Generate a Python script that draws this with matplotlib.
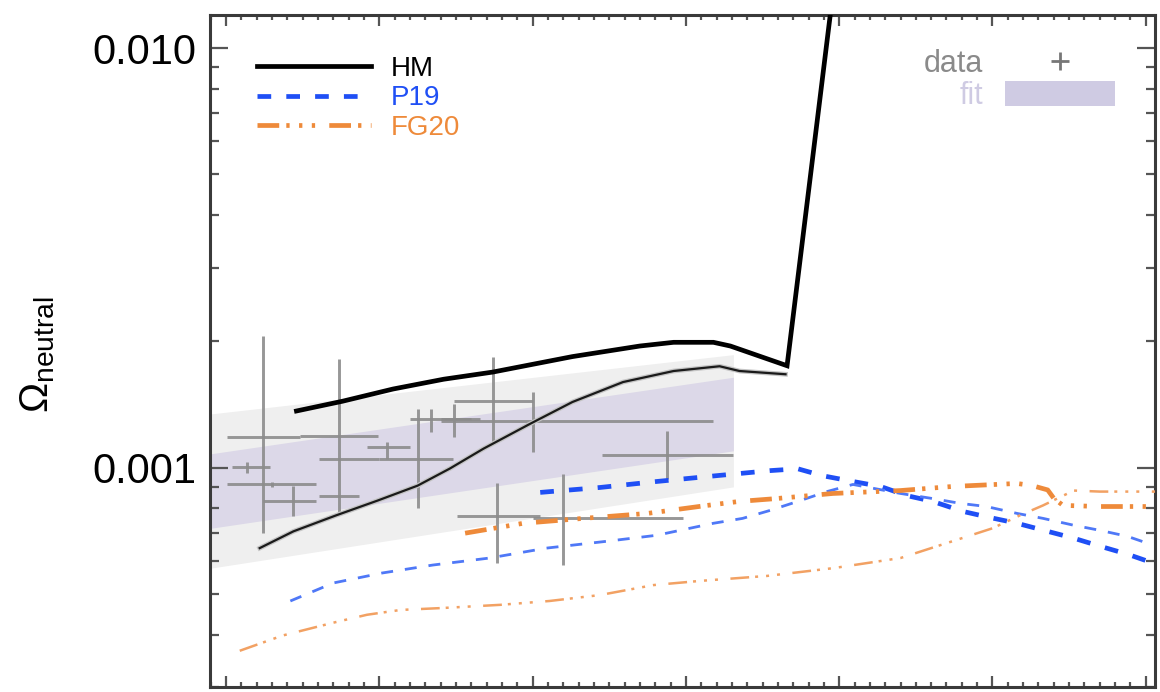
import matplotlib
matplotlib.use("Agg")
import matplotlib.pyplot as plt
import matplotlib.patheffects as pe
from matplotlib.lines import Line2D
from matplotlib.patches import Patch
from matplotlib.ticker import MultipleLocator, LogLocator, FuncFormatter, NullFormatter

plt.rcParams['font.family'] = ['Liberation Sans', 'DejaVu Sans']
plt.rcParams['mathtext.fontset'] = 'custom'
plt.rcParams['mathtext.rm'] = 'Liberation Sans'
plt.rcParams['mathtext.it'] = 'Liberation Sans:italic'

# ---------------- data ----------------
hm_x = [0.46, 0.76, 1.09, 1.42, 1.74, 2.26, 2.70, 2.92, 3.18, 3.29, 3.66, 3.96]
hm_y = [1.365e-3, 1.44e-3, 1.54e-3, 1.625e-3, 1.69e-3, 1.84e-3, 1.95e-3,
        1.99e-3, 1.99e-3, 1.95e-3, 1.75e-3, 1.36e-2]

hm2_x = [0.22, 0.44, 0.72, 0.99, 1.25, 1.46, 1.68, 1.98, 2.26, 2.59, 2.92, 3.22, 3.35, 3.65]
hm2_y = [0.643e-3, 0.705e-3, 0.770e-3, 0.835e-3, 0.906e-3, 0.995e-3, 1.11e-3,
         1.27e-3, 1.434e-3, 1.60e-3, 1.70e-3, 1.745e-3, 1.70e-3, 1.67e-3]

p19_x = [2.05, 2.44, 2.81, 3.20, 3.55, 3.73, 3.89, 4.09, 4.27, 4.44, 4.61, 4.81,
         4.98, 5.16, 5.36, 5.53, 5.70, 5.88, 6.05]
p19_y = [0.873e-3, 0.897e-3, 0.927e-3, 0.957e-3, 0.984e-3, 0.994e-3, 0.957e-3,
         0.927e-3, 0.902e-3, 0.858e-3, 0.831e-3, 0.786e-3, 0.761e-3, 0.737e-3,
         0.705e-3, 0.679e-3, 0.650e-3, 0.622e-3, 0.592e-3]

p19b_x = [0.42, 0.70, 1.02, 1.35, 1.72, 2.09, 2.49, 2.81, 3.18, 3.37, 3.55, 3.73,
          3.92, 4.09, 4.40, 4.61, 4.79, 4.96, 5.16, 5.33, 5.53, 5.70, 5.88, 6.05]
p19b_y = [0.481e-3, 0.531e-3, 0.561e-3, 0.586e-3, 0.609e-3, 0.643e-3, 0.668e-3,
          0.690e-3, 0.737e-3, 0.757e-3, 0.791e-3, 0.831e-3, 0.877e-3, 0.912e-3,
          0.868e-3, 0.844e-3, 0.822e-3, 0.808e-3, 0.778e-3, 0.757e-3, 0.729e-3,
          0.709e-3, 0.686e-3, 0.653e-3]

fg_x = [1.56, 1.94, 2.33, 2.75, 3.14, 3.35, 3.59, 3.96, 4.40, 4.74, 5.16, 5.26,
        5.36, 5.40, 5.46, 5.70, 6.09]
fg_y = [0.698e-3, 0.737e-3, 0.757e-3, 0.778e-3, 0.813e-3, 0.831e-3, 0.844e-3,
        0.868e-3, 0.882e-3, 0.902e-3, 0.917e-3, 0.906e-3, 0.885e-3, 0.845e-3,
        0.813e-3, 0.808e-3, 0.808e-3]

fg2_x = [0.09, 0.37, 0.70, 0.92, 1.14, 1.42, 1.79, 2.11, 2.44, 2.79, 3.09, 3.53,
         3.96, 4.40, 4.74, 5.00, 5.18, 5.33, 5.53, 5.70, 6.09]
fg2_y = [0.366e-3, 0.398e-3, 0.427e-3, 0.446e-3, 0.458e-3, 0.463e-3, 0.471e-3,
         0.481e-3, 0.497e-3, 0.525e-3, 0.537e-3, 0.552e-3, 0.576e-3, 0.609e-3,
         0.668e-3, 0.717e-3, 0.770e-3, 0.813e-3, 0.882e-3, 0.877e-3, 0.877e-3]

# observations with error bars
obs_x   = [0.24, 0.14, 0.44, 0.30, 0.74, 0.74, 0.74, 1.05, 1.25, 1.34, 1.49, 1.74, 2.00, 2.88, 1.77, 2.20]
obs_y   = [1.184e-3, 1.005e-3, 0.831e-3, 0.912e-3, 1.191e-3, 1.050e-3, 0.854e-3, 1.121e-3,
           1.050e-3, 1.306e-3, 1.306e-3, 1.441e-3, 1.292e-3, 1.073e-3, 0.765e-3, 0.757e-3]
obs_xlo = [0.01, 0.04, 0.24, 0.01, 0.48, 0.61, 0.61, 0.92, 1.00, 1.20, 1.40, 1.49, 1.40, 2.45, 1.51, 2.00]
obs_xhi = [0.48, 0.29, 0.59, 0.59, 0.99, 1.00, 0.87, 1.20, 1.48, 1.66, 1.60, 2.00, 3.18, 3.31, 2.05, 2.98]
obs_ylo = [0.698e-3, 0.973e-3, 0.765e-3, 0.900e-3, 0.778e-3, 1.045e-3, 0.850e-3, 1.050e-3,
           0.800e-3, 1.217e-3, 1.184e-3, 1.152e-3, 1.091e-3, 0.942e-3, 0.592e-3, 0.586e-3]
obs_yhi = [2.06e-3, 1.033e-3, 0.906e-3, 0.925e-3, 1.813e-3, 1.055e-3, 0.858e-3, 1.152e-3,
           1.380e-3, 1.380e-3, 1.418e-3, 1.832e-3, 1.514e-3, 1.224e-3, 0.917e-3, 0.968e-3]

# fit band
fit_x = [-0.10, 3.31]
fit_in_lo = [0.717e-3, 1.097e-3]
fit_in_hi = [1.079e-3, 1.643e-3]
fit_out_lo = [0.576e-3, 0.900e-3]
fit_out_hi = [1.343e-3, 1.860e-3]

# ---------------- styling ----------------
BLUE = '#1f4ff5'
BLUE_L = '#4f78f7'
ORANGE = '#ee8a3a'
ORANGE_L = '#f2a163'
GRAY = '#8c8c8c'
LAV = '#dcd8e8'
LAV_LEG = '#cfcbe3'
LIGHT = '#efefef'

fig = plt.figure(figsize=(11.6, 6.92), dpi=100)
ax = fig.add_axes([210 / 1160, 5 / 692, 945 / 1160, 672 / 692])
ax.set_yscale('log')
ax.set_xlim(-0.104, 6.06)
ax.set_ylim(3.0e-4, 0.012)

ax.fill_between(fit_x, fit_out_lo, fit_out_hi, color=LIGHT, lw=0, zorder=1)
ax.fill_between(fit_x, fit_in_lo, fit_in_hi, color=LAV, lw=0, zorder=1.1)

for xi, yi, xl, xh, yl, yh in zip(obs_x, obs_y, obs_xlo, obs_xhi, obs_ylo, obs_yhi):
    ax.errorbar([xi], [yi], xerr=[[xi - xl], [xh - xi]], yerr=[[yi - yl], [yh - yi]],
                fmt='none', ecolor=GRAY, elinewidth=2.1, capsize=0, zorder=2, alpha=0.9)

lw_thick = 3.4
ax.plot(hm_x, hm_y, color='black', lw=lw_thick, label='HM', zorder=5,
        solid_joinstyle='miter')
ax.plot(hm2_x, hm2_y, color='#1a1a1a', lw=1.6, zorder=4,
        path_effects=[pe.Stroke(linewidth=3.4, foreground='#c4c4c4'), pe.Normal()])

ax.plot(p19_x, p19_y, color=BLUE, lw=lw_thick, ls=(0, (2.9, 3.2)), label='P19', zorder=4)
ax.plot(p19b_x, p19b_y, color=BLUE_L, lw=2.0, ls=(0, (4.3, 4.3)), zorder=4)

fg_dash = (4.6, 1.5, 0.7, 2.0, 0.7, 2.0, 0.7, 3.0)
ax.plot(fg_x, fg_y, color=ORANGE, lw=lw_thick, ls=(0, fg_dash), label='FG20', zorder=4)
ax.plot(fg2_x, fg2_y, color=ORANGE_L, lw=1.8, ls=(0, (7.5, 2.4, 1.2, 3.2, 1.2, 3.2, 1.2, 5.0)),
        zorder=4)

# ---------------- axes styling ----------------
for s in ax.spines.values():
    s.set_color('#3a3a3a')
    s.set_linewidth(2.2)

ax.xaxis.set_major_locator(MultipleLocator(1))
ax.xaxis.set_minor_locator(MultipleLocator(0.1))
ax.yaxis.set_major_locator(LogLocator(base=10, numticks=10))
ax.yaxis.set_minor_locator(LogLocator(base=10, subs=range(2, 10), numticks=20))
ax.yaxis.set_major_formatter(FuncFormatter(lambda v, _: f'{v:.3f}'))
ax.yaxis.set_minor_formatter(NullFormatter())

ax.tick_params(axis='x', which='both', direction='in', top=True, bottom=True,
               labelbottom=False, color='#555555', width=1.6)
ax.tick_params(axis='x', which='major', length=8)
ax.tick_params(axis='x', which='minor', length=3.8)
ax.tick_params(axis='y', which='both', direction='in', left=True, right=True,
               color='#555555', width=1.6, labelsize=30, pad=10)
ax.tick_params(axis='y', which='major', length=13)
ax.tick_params(axis='y', which='minor', length=6.5)

# y label
fig.text(38 / 1160, 1 - 355 / 692, 'Ω$_{\\mathrm{neutral}}$', rotation=90,
         ha='center', va='center', fontsize=29)

# legends
leg1 = ax.legend(loc='upper left', bbox_to_anchor=(257 / 1160, 1 - 56 / 692),
                 bbox_transform=fig.transFigure, frameon=False, fontsize=20,
                 handlelength=4.1, handletextpad=0.72, labelspacing=0.12,
                 borderpad=0, borderaxespad=0, labelcolor='linecolor')
ax.add_artist(leg1)

h_data = Line2D([], [], ls='none', marker='+', color='#777777', ms=13, mew=2)
h_fit = Patch(facecolor=LAV_LEG, edgecolor='none')
leg2 = ax.legend([h_data, h_fit], ['data', 'fit'], loc='upper right',
                 bbox_to_anchor=(1115 / 1160, 1 - 49 / 692), bbox_transform=fig.transFigure,
                 frameon=False, fontsize=22, markerfirst=False, handlelength=3.6,
                 handleheight=0.9, handletextpad=0.7, labelspacing=0.05,
                 borderpad=0, borderaxespad=0, labelcolor=['#8a8a8a', '#cfcbe3'])

fig.savefig('out.png', dpi=100)
